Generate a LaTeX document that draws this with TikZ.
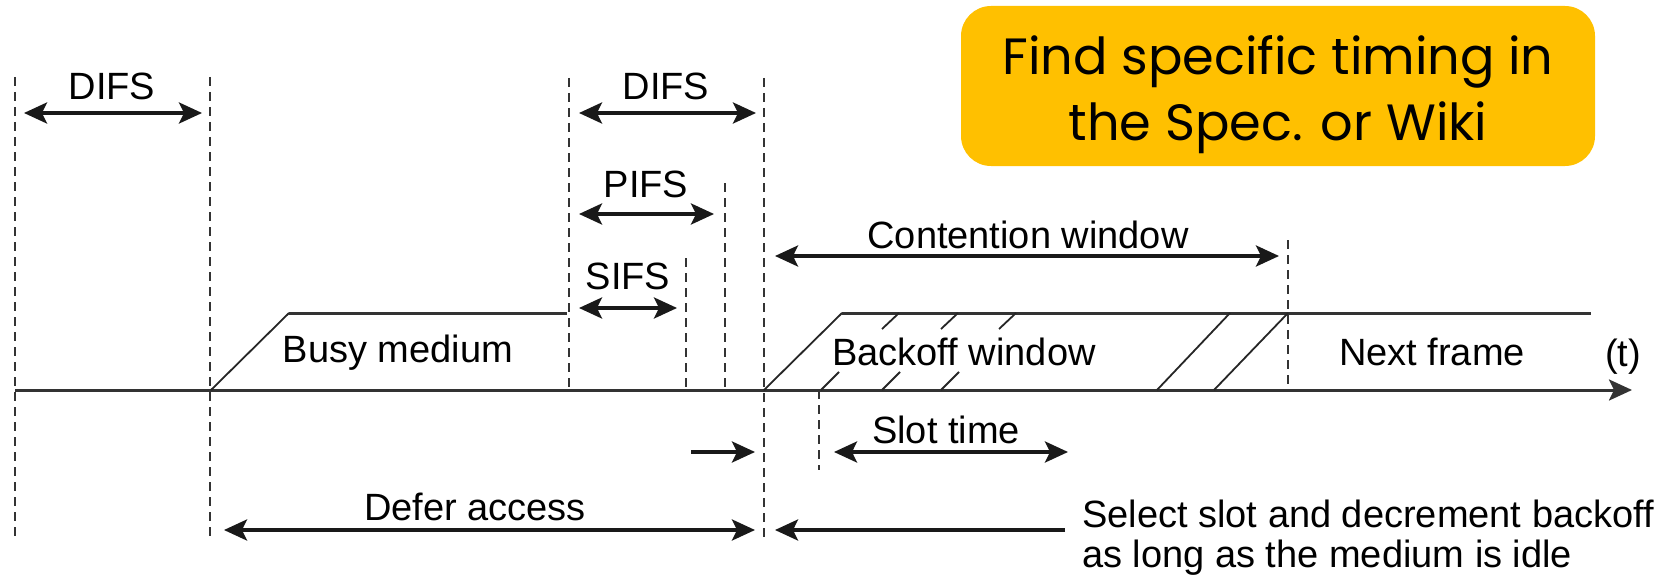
\documentclass[tikz,border=0pt]{standalone}
\usepackage{fontspec}
\setmainfont{Liberation Sans}
\newfontfamily\boxfont{Poppins}
\usetikzlibrary{arrows.meta}
\begin{document}
\begin{tikzpicture}[x=1pt,y=-1pt,
  lbl/.style={font=\fontsize{38}{40}\selectfont, inner sep=0pt, anchor=base, text=black},
  notetext/.style={font=\boxfont\fontsize{51}{65}\selectfont, inner sep=0pt, anchor=base, text=black},
  tip/.tip={Stealth[length=23pt,width=21pt,inset=5pt]},
  dim/.style={line width=3.5pt, draw=black!90, tip-tip},
  onearrow/.style={line width=3.5pt, draw=black!90, -tip},
  guide/.style={line width=1.5pt, draw=black!80, dash pattern=on 9pt off 6pt},
  edge/.style={line width=3pt, draw=black!80},
  slope/.style={line width=1.8pt, draw=black!85},
  notebox/.style={fill=gold, rounded corners=30pt, minimum width=634pt, minimum height=160pt, inner sep=0pt}
]
\definecolor{gold}{HTML}{FFC000}
\useasboundingbox (0,0) rectangle (1675,575);

% note box
\node[notebox] (note) at (1278,86) {};
\node[notetext] (note1) at (1278,75) {Find specific timing in};
\node[notetext] (note2) at (1278,140) {the Spec. or Wiki};

% guide coordinates
\coordinate (g1t) at (15,77);   \coordinate (g1b) at (15,537);
\coordinate (g2t) at (210,77);  \coordinate (g2b) at (210,537);
\coordinate (g3t) at (569,78);  \coordinate (g3b) at (569,390);
\coordinate (g4t) at (764,78);  \coordinate (g4b) at (764,537);
\coordinate (g5t) at (725,183); \coordinate (g5b) at (725,390);
\coordinate (g6t) at (686,258); \coordinate (g6b) at (686,390);
\coordinate (g7t) at (1288,240); \coordinate (g7b) at (1288,390);
\coordinate (g8t) at (819,390); \coordinate (g8b) at (819,470);
\foreach \g in {1,...,8} {\draw[guide] (g\g t) -- (g\g b);}

% time axis
\coordinate (axL) at (15,390);
\coordinate (axR) at (1632,390);
\draw[edge, -tip] (axL) -- (axR);

% busy medium
\coordinate (bm0) at (211,390);
\coordinate (bm1) at (289,313);
\coordinate (bm2) at (567,313);
\draw[slope] (bm0) -- (bm1);
\draw[edge] (bm1) -- (bm2);

% backoff window
\coordinate (bw0) at (764,390);
\coordinate (bw1) at (842,313);
\coordinate (bw2) at (1591,313);
\draw[slope] (bw0) -- (bw1);
\draw[edge] (bw1) -- (bw2);
\foreach \x in {882,941,999} {\draw[slope] (\x,329) -- (\x+17,313);}
\foreach \x in {821,882,941} {\draw[slope] (\x,390) -- (\x+18,372);}
\coordinate (ls1a) at (1157,390); \coordinate (ls1b) at (1230,313);
\coordinate (ls2a) at (1214,390); \coordinate (ls2b) at (1288,313);
\draw[slope] (ls1a) -- (ls1b);
\draw[slope] (ls2a) -- (ls2b);

% dimension arrows
\coordinate (difs1L) at (24,113);  \coordinate (difs1R) at (202,113);
\coordinate (difs2L) at (579,113); \coordinate (difs2R) at (756,113);
\coordinate (pifsL) at (579,214);  \coordinate (pifsR) at (714,214);
\coordinate (sifsL) at (579,308);  \coordinate (sifsR) at (677,308);
\coordinate (cwL) at (775,256);    \coordinate (cwR) at (1279,256);
\coordinate (stL) at (834,452);    \coordinate (stR) at (1068,452);
\coordinate (daL) at (224,530);    \coordinate (daR) at (755,530);
\coordinate (smL) at (691,452);    \coordinate (smR) at (755,452);
\coordinate (selR) at (1065,530);  \coordinate (selL) at (775,530);
\draw[dim] (difs1L) -- (difs1R);
\draw[dim] (difs2L) -- (difs2R);
\draw[dim] (pifsL) -- (pifsR);
\draw[dim] (sifsL) -- (sifsR);
\draw[dim] (cwL) -- (cwR);
\draw[dim] (stL) -- (stR);
\draw[dim] (daL) -- (daR);
\draw[onearrow] (smL) -- (smR);
\draw[onearrow] (selR) -- (selL);

% labels
\node[lbl] (tdifs1) at (112,100) {DIFS};
\node[lbl] (tdifs2) at (666,100) {DIFS};
\node[lbl] (tpifs) at (646,197) {PIFS};
\node[lbl] (tsifs) at (628,289) {SIFS};
\node[lbl] (tcw) at (1028,248) {Contention window};
\node[lbl] (tbusy) at (398,362) {Busy medium};
\node[lbl] (tbw) at (964,365) {Backoff window};
\node[lbl] (tnf) at (1432,365) {Next frame};
\node[lbl] (tt) at (1623,366) {(t)};
\node[lbl] (tst) at (946,443) {Slot time};
\node[lbl] (tda) at (475,520) {Defer access};
\node[lbl, anchor=base west] (tsel1) at (1082,527) {Select slot and decrement backoff};
\node[lbl, anchor=base west] (tsel2) at (1082,567) {as long as the medium is idle};
\end{tikzpicture}
\end{document}
